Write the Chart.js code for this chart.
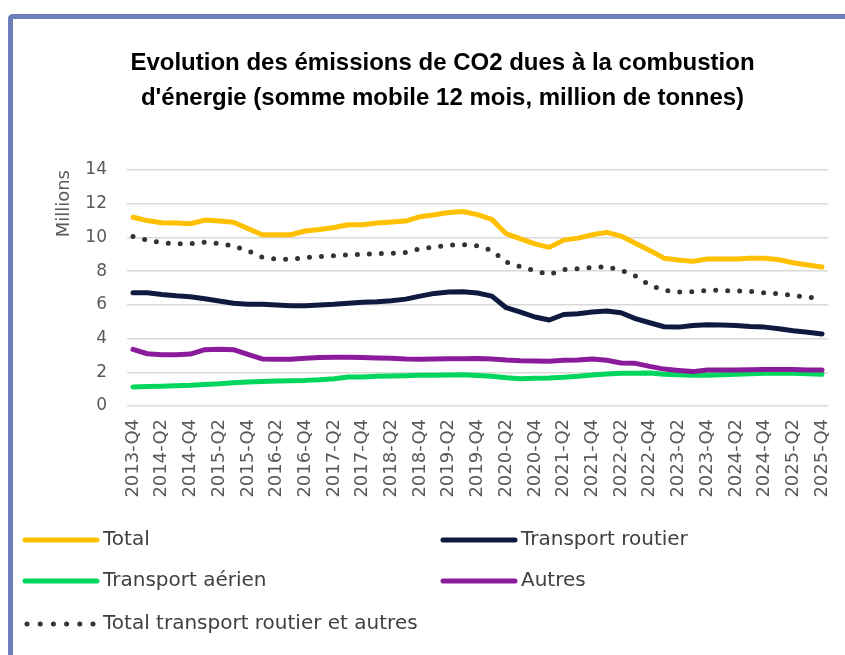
<!DOCTYPE html>
<html>
<head>
<meta charset="utf-8">
<script src="https://cdn.jsdelivr.net/npm/chart.js@4.4.1/dist/chart.umd.min.js"></script>
<style>
  html, body { margin: 0; padding: 0; background: #fff; overflow: hidden; }
  #frame {
    position: absolute; left: 8px; top: 14px; width: 900px; height: 700px;
    border-left: 5px solid #6e7eb8; border-top: 5px solid #6e7eb8;
    border-top-left-radius: 5px;
  }
  #chart { position: absolute; left: 0; top: 0; }
</style>
</head>
<body>
<div id="frame"></div>
<canvas id="chart" width="885" height="655"></canvas>
<script>
// quarters 2013-Q4 .. 2025-Q4
let quarters = [
  "2013-Q4",
  "2014-Q1", "2014-Q2", "2014-Q3", "2014-Q4",
  "2015-Q1", "2015-Q2", "2015-Q3", "2015-Q4",
  "2016-Q1", "2016-Q2", "2016-Q3", "2016-Q4",
  "2017-Q1", "2017-Q2", "2017-Q3", "2017-Q4",
  "2018-Q1", "2018-Q2", "2018-Q3", "2018-Q4",
  "2019-Q1", "2019-Q2", "2019-Q3", "2019-Q4",
  "2020-Q1", "2020-Q2", "2020-Q3", "2020-Q4",
  "2021-Q1", "2021-Q2", "2021-Q3", "2021-Q4",
  "2022-Q1", "2022-Q2", "2022-Q3", "2022-Q4",
  "2023-Q1", "2023-Q2", "2023-Q3", "2023-Q4",
  "2024-Q1", "2024-Q2", "2024-Q3", "2024-Q4",
  "2025-Q1", "2025-Q2", "2025-Q3", "2025-Q4",
];

let total = [
  11.2, 11.0, 10.87, 10.85, 10.81, 11.03, 10.97, 10.9, 10.53, 10.16, 10.16, 10.16, 10.38,
  10.47, 10.59, 10.75, 10.75, 10.85, 10.91, 10.97, 11.23, 11.34, 11.48, 11.54, 11.35,
  11.07, 10.22, 9.92, 9.62, 9.41, 9.84, 9.96, 10.16, 10.3, 10.08, 9.66,
  9.23, 8.77, 8.66, 8.58, 8.72, 8.72, 8.72, 8.77, 8.77, 8.68, 8.5, 8.36, 8.24,
];

let routier = [
  6.72, 6.72, 6.62, 6.54, 6.48, 6.36, 6.23, 6.1, 6.03, 6.03, 5.99, 5.95, 5.95,
  5.99, 6.03, 6.1, 6.15, 6.19, 6.25, 6.34, 6.52, 6.68, 6.76, 6.78, 6.7,
  6.52, 5.83, 5.57, 5.28, 5.1, 5.43, 5.47, 5.57, 5.63, 5.53, 5.18,
  4.94, 4.7, 4.68, 4.78, 4.82, 4.8, 4.78, 4.72, 4.68, 4.58, 4.46, 4.37, 4.27,
];

let aerien = [
  1.13, 1.15, 1.17, 1.2, 1.23, 1.28, 1.32, 1.38, 1.42, 1.46, 1.48, 1.5, 1.52,
  1.56, 1.62, 1.72, 1.72, 1.76, 1.78, 1.8, 1.82, 1.82, 1.84, 1.86, 1.81,
  1.76, 1.68, 1.62, 1.64, 1.66, 1.7, 1.76, 1.84, 1.9, 1.94, 1.94,
  1.96, 1.88, 1.86, 1.82, 1.82, 1.86, 1.88, 1.92, 1.94, 1.94, 1.94, 1.92, 1.88,
];

let autres = [
  3.36, 3.1, 3.04, 3.04, 3.08, 3.34, 3.36, 3.34, 3.06, 2.79, 2.77, 2.77, 2.83,
  2.87, 2.89, 2.89, 2.87, 2.85, 2.83, 2.79, 2.77, 2.79, 2.81, 2.81, 2.82,
  2.79, 2.73, 2.69, 2.67, 2.65, 2.71, 2.73, 2.79, 2.71, 2.55, 2.53,
  2.35, 2.19, 2.11, 2.04, 2.13, 2.13, 2.13, 2.15, 2.17, 2.17, 2.17, 2.13, 2.13,
];

let routierEtAutres = [
  10.06, 9.84, 9.68, 9.62, 9.62, 9.72, 9.64, 9.5, 9.21, 8.83, 8.72, 8.7, 8.8,
  8.87, 8.91, 8.97, 8.99, 9.05, 9.05, 9.11, 9.33, 9.43, 9.55, 9.58, 9.5,
  9.23, 8.54, 8.26, 8.02, 7.8, 8.1, 8.14, 8.22, 8.26, 8.06, 7.71,
  7.17, 6.86, 6.76, 6.78, 6.86, 6.86, 6.82, 6.8, 6.72, 6.66, 6.56, 6.46, 6.38,
];

let yTicks = [0, 2, 4, 6, 8, 10, 12, 14];

function toPoints(values) {
  return values.map((v, i) => ({ x: i, y: v }));
}

// legend drawn in two columns like the original
const legendSlots = [
  { index: 0, x: 25, y: 540 },
  { index: 1, x: 443, y: 540 },
  { index: 2, x: 25, y: 581 },
  { index: 3, x: 443, y: 581 },
  { index: 4, x: 25, y: 624 },
];

const gridLegend = {
  id: "gridLegend",
  afterDraw(chart) {
    const ctx = chart.ctx;
    ctx.save();
    ctx.font = "20px 'DejaVu Sans'";
    ctx.textBaseline = "middle";
    legendSlots.forEach(function (slot) {
      let ds = chart.data.datasets[slot.index];
      ctx.strokeStyle = ds.borderColor;
      ctx.lineWidth = 5;
      ctx.lineCap = "round";
      ctx.beginPath();
      if (ds.borderDash && ds.borderDash.length) {
        ctx.setLineDash([0, 13.2]);
        ctx.moveTo(slot.x + 2, slot.y);
        ctx.lineTo(slot.x + 70, slot.y);
      } else {
        ctx.setLineDash([]);
        ctx.moveTo(slot.x, slot.y);
        ctx.lineTo(slot.x + 72, slot.y);
      }
      ctx.stroke();
      ctx.fillStyle = "#404040";
      ctx.fillText(ds.label, slot.x + 78, slot.y);
    });
    ctx.restore();
  },
};

const ctx = document.getElementById("chart");

new Chart(ctx, {
  type: "line",
  data: {
    datasets: [
      {
        label: "Total",
        data: toPoints(total),
        borderColor: "#ffc000",
      },
      {
        label: "Transport routier",
        data: toPoints(routier),
        borderColor: "#0e1a40",
      },
      {
        label: "Transport aérien",
        data: toPoints(aerien),
        borderColor: "#00d65e",
        order: 1,
      },
      {
        label: "Autres",
        data: toPoints(autres),
        borderColor: "#8a1c9b",
      },
      {
        label: "Total transport routier et autres",
        data: toPoints(routierEtAutres),
        borderColor: "#333333",
        borderDash: [0, 12],
        borderCapStyle: "round",
      },
    ],
  },
  options: {
    responsive: false,
    animation: false,
    layout: { padding: { left: 57, right: 57, top: 0, bottom: 139 } },
    elements: {
      point: { radius: 0 },
      line: { borderWidth: 5, tension: 0, borderJoinStyle: "round", borderCapStyle: "round" },
    },
    plugins: {
      legend: { display: false },
      tooltip: { enabled: false },
      title: {
        display: true,
        text: [
          "Evolution des émissions de CO2 dues à la combustion",
          "d'énergie (somme mobile 12 mois, million de tonnes)",
        ],
        color: "#000",
        font: { family: "'Liberation Sans', Arial, sans-serif", size: 24, weight: "bold", lineHeight: 35 / 24 },
        padding: { top: 46, bottom: 54 },
      },
    },
    scales: {
      x: {
        type: "linear",
        min: -0.418,
        max: 48.418,
        grid: { display: false, drawTicks: false },
        border: { display: false },
        afterBuildTicks: (scale) => {
          scale.ticks = quarters
            .map((q, i) => ({ value: i }))
            .filter((t) => t.value % 2 === 0);
        },
        afterFit: (scale) => {
          scale.height = 110;
        },
        ticks: {
          autoSkip: false,
          minRotation: 90,
          maxRotation: 90,
          padding: 13,
          color: "#595959",
          font: { family: "'DejaVu Sans'", size: 18 },
          callback: (v) => quarters[v],
        },
      },
      y: {
        min: 0,
        max: 14,
        afterBuildTicks: (scale) => {
          scale.ticks = yTicks.map((v) => ({ value: v }));
        },
        afterFit: (scale) => {
          scale.width = 70;
        },
        grid: { color: "#d9d9d9", lineWidth: 1.5, drawTicks: false },
        border: { display: false },
        ticks: {
          padding: 20,
          color: "#595959",
          font: { family: "'DejaVu Sans'", size: 17 },
        },
        title: {
          display: true,
          text: "Millions",
          align: "end",
          color: "#595959",
          font: { family: "'DejaVu Sans'", size: 18, lineHeight: 0.8 },
          padding: 0,
        },
      },
    },
  },
  plugins: [gridLegend],
});
</script>
</body>
</html>
